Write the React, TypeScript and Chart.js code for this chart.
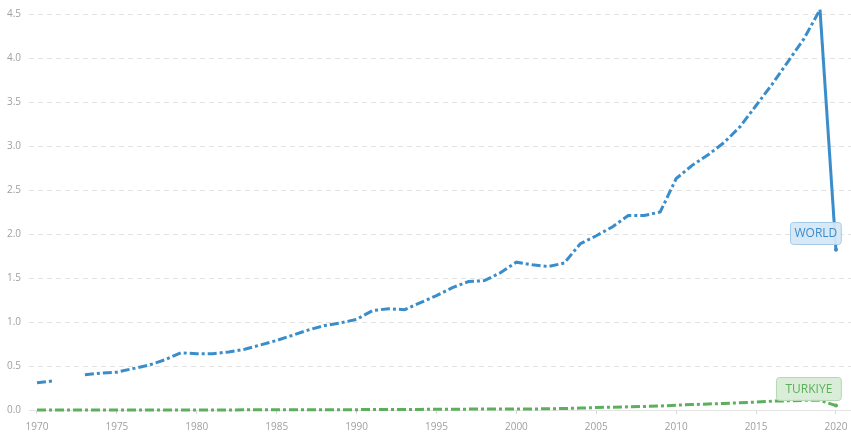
import React, { useEffect, useRef } from "react";
import { Chart, registerables } from "chart.js";

Chart.register(...registerables);

const years = [
  1970, 1971, 1972, 1973, 1974, 1975, 1976, 1977, 1978, 1979,
  1980, 1981, 1982, 1983, 1984, 1985, 1986, 1987, 1988, 1989,
  1990, 1991, 1992, 1993, 1994, 1995, 1996, 1997, 1998, 1999,
  2000, 2001, 2002, 2003, 2004, 2005, 2006, 2007, 2008, 2009,
  2010, 2011, 2012, 2013, 2014, 2015, 2016, 2017, 2018, 2019,
  2020,
];

const worldValues: (number | null)[] = [
  0.31, 0.33, null, 0.4, 0.42, 0.43, 0.47, 0.51, 0.57, 0.65,
  0.64, 0.64, 0.66, 0.69, 0.74, 0.79, 0.85, 0.91, 0.96, 0.99,
  1.03, 1.13, 1.15, 1.14, 1.22, 1.3, 1.39, 1.46, 1.47, 1.56,
  1.68, 1.65, 1.63, 1.67, 1.89, 1.98, 2.08, 2.21, 2.21, 2.25,
  2.63, 2.78, 2.9, 3.04, 3.22, 3.46, 3.7, 3.96, 4.22, 4.55,
  1.82,
];

const turkiyeValues: number[] = [
  0.001, 0.001, 0.001, 0.001, 0.001, 0.001, 0.001, 0.001, 0.001, 0.001,
  0.001, 0.001, 0.001, 0.002, 0.002, 0.002, 0.003, 0.003, 0.003, 0.004,
  0.004, 0.005, 0.006, 0.007, 0.007, 0.008, 0.009, 0.01, 0.011, 0.011,
  0.012, 0.012, 0.014, 0.017, 0.022, 0.028, 0.032, 0.036, 0.04, 0.045,
  0.055, 0.062, 0.068, 0.075, 0.082, 0.09, 0.1, 0.105, 0.11, 0.11,
  0.05,
];

const seriesNames = ["WORLD", "TURKIYE"];
const yTicks = [0, 0.5, 1, 1.5, 2, 2.5, 3, 3.5, 4, 4.5];
const xTickYears = [1970, 1975, 1980, 1985, 1990, 1995, 2000, 2005, 2010, 2015, 2020];

const BLUE = "#3a8dcb";
const GREEN = "#5cb05c";
const DASH = [9, 3, 3, 3];

export default function App() {
  const ref = useRef<HTMLCanvasElement | null>(null);

  useEffect(() => {
    if (!ref.current) return;
    Chart.defaults.font.family = "'Open Sans', sans-serif";
    const last = years.length - 1;

    const labelPlugin = {
      id: "endLabels",
      afterDatasetsDraw(chart: any) {
        const ctx = chart.ctx;
        const xs = chart.scales.x;
        const ys = chart.scales.y;
        const drawBox = (text: string, cyVal: number, pad: number, h: number, fill: string, stroke: string, color: string) => {
          ctx.save();
          ctx.font = "12px 'Open Sans', sans-serif";
          const w = ctx.measureText(text).width + pad * 2;
          const right = xs.getPixelForValue(2020) + 5;
          const cy = ys.getPixelForValue(cyVal);
          const x = Math.round(right - w);
          const y = Math.round(cy - h / 2);
          ctx.beginPath();
          ctx.roundRect(x + 0.5, y + 0.5, w, h, 3);
          ctx.fillStyle = fill;
          ctx.fill();
          ctx.strokeStyle = stroke;
          ctx.lineWidth = 1;
          ctx.stroke();
          ctx.fillStyle = color;
          ctx.textAlign = "center";
          ctx.textBaseline = "middle";
          ctx.fillText(text, x + w / 2 + 0.5, y + h / 2 + 1);
          ctx.restore();
        };
        drawBox(seriesNames[0], 2.01, 4, 22, "rgba(213,231,245,0.95)", "#a6cbe9", BLUE);
        drawBox(seriesNames[1], 0.24, 9, 23, "rgba(216,236,214,0.95)", "#b3dab1", GREEN);
      },
    };

    const chart = new Chart(ref.current, {
      type: "line",
      data: {
        datasets: [
          {
            label: seriesNames[0],
            data: years.map((y, i) => ({ x: y, y: worldValues[i] })) as any,
            borderColor: BLUE,
            backgroundColor: BLUE,
            borderWidth: 3,
            borderDash: DASH,
            tension: 0,
            spanGaps: false,
            clip: 10,
            pointRadius: (c: any) => (c.dataIndex === last ? 2 : 0),
            pointHoverRadius: 0,
            pointBorderWidth: 0,
            segment: {
              borderDash: (c: any) => (c.p0DataIndex === last - 1 ? [] : undefined),
            },
          },
          {
            label: seriesNames[1],
            data: years.map((y, i) => ({ x: y, y: turkiyeValues[i] })) as any,
            borderColor: GREEN,
            backgroundColor: GREEN,
            borderWidth: 3,
            borderDash: DASH,
            tension: 0,
            clip: 10,
            pointRadius: (c: any) => (c.dataIndex === last ? 2 : 0),
            pointHoverRadius: 0,
            pointBorderWidth: 0,
          },
        ],
      },
      options: {
        animation: false,
        responsive: true,
        maintainAspectRatio: false,
        layout: { autoPadding: false, padding: { top: 10, right: 0, left: 0, bottom: 0 } },
        plugins: {
          legend: { display: false },
          tooltip: { enabled: false },
        },
        scales: {
          x: {
            type: "linear",
            min: 1969.5,
            max: 2020.94,
            afterBuildTicks: (s: any) => {
              s.ticks = xTickYears.map((v) => ({ value: v }));
            },
            afterFit: (s: any) => {
              s.height = 26;
              s.paddingLeft = 0;
              s.paddingRight = 0;
            },
            ticks: {
              color: "#a0a0a0",
              font: { size: 10 },
              padding: 7,
              maxRotation: 0,
              callback: (v: any) => String(v),
            },
            grid: {
              drawOnChartArea: false,
              drawTicks: true,
              tickLength: 4,
              color: "#d8d8d8",
            },
            border: { display: true, color: "#e4e4e4", width: 1 },
          },
          y: {
            type: "linear",
            min: 0,
            max: 4.5,
            afterBuildTicks: (s: any) => {
              s.ticks = yTicks.map((v) => ({ value: v }));
            },
            afterFit: (s: any) => {
              s.width = 29;
            },
            ticks: {
              color: "#a0a0a0",
              font: { size: 10 },
              padding: 8,
              callback: (v: any) => Number(v).toFixed(1),
            },
            grid: {
              drawTicks: false,
              color: "#e2e2e2",
              lineWidth: 1,
            },
            border: { display: false, dash: [5, 4] },
          },
        },
      },
      plugins: [labelPlugin],
    });

    return () => chart.destroy();
  }, []);

  return (
    <div style={{ position: "fixed", left: 0, top: 0, width: 851, height: 436, background: "#fff" }}>
      <canvas ref={ref} />
    </div>
  );
}
